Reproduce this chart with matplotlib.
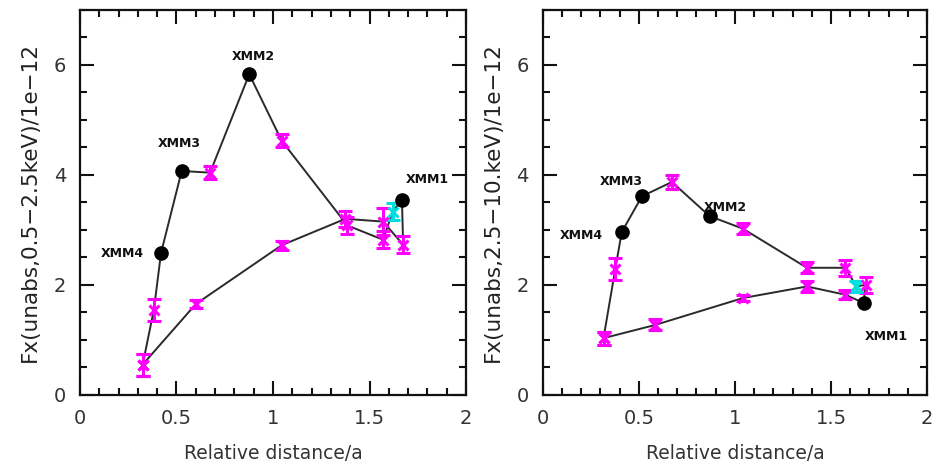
"""
Fx vs relative distance for the two energy bands (soft / hard)
"""
import matplotlib.pyplot as plt
import numpy as np
from matplotlib.ticker import MultipleLocator

# ==================== data ====================
# soft band 0.5-2.5 keV, points in orbital order (closed loop)
SOFT_X = [0.325, 0.383, 0.420, 0.527, 0.674, 0.877, 1.045, 1.385, 1.570, 1.620,
          1.668, 1.674, 1.570, 1.375, 1.045, 0.600, 0.325]
SOFT_Y = [0.55, 1.55, 2.58, 4.07, 4.04, 5.83, 4.62, 3.08, 2.82, 3.33,
          3.55, 2.73, 3.15, 3.20, 2.72, 1.65, 0.55]
SOFT_ERR = [0.20, 0.20, 0.0, 0.0, 0.12, 0.0, 0.12, 0.15, 0.15, 0.15,
            0.0, 0.15, 0.25, 0.15, 0.08, 0.08, 0.20]
# kind of each point: X = XMM observation, M = magenta, C = cyan
SOFT_KIND = ["M", "M", "X", "X", "M", "X", "M", "M", "M", "C",
             "X", "M", "M", "M", "M", "M", "M"]
SOFT_LABELS = {"XMM4": (0.218, 2.57), "XMM3": (0.513, 4.57),
               "XMM2": (0.900, 6.16), "XMM1": (1.797, 3.92)}

# hard band 2.5-10 keV
HARD_X = [0.316, 0.377, 0.411, 0.516, 0.672, 0.868, 1.042, 1.375, 1.575, 1.632,
          1.680, 1.670, 1.575, 1.375, 1.042, 0.585, 0.316]
HARD_Y = [1.03, 2.28, 2.96, 3.61, 3.87, 3.25, 3.02, 2.31, 2.31, 1.97,
          2.00, 1.67, 1.82, 1.97, 1.76, 1.27, 1.03]
HARD_ERR = [0.12, 0.20, 0.0, 0.0, 0.12, 0.0, 0.10, 0.10, 0.15, 0.10,
            0.15, 0.0, 0.08, 0.10, 0.06, 0.10, 0.12]
HARD_KIND = ["M", "M", "X", "X", "M", "X", "M", "M", "M", "C",
             "M", "X", "M", "M", "M", "M", "M"]
HARD_LABELS = {"XMM4": (0.203, 2.90), "XMM3": (0.406, 3.87),
               "XMM2": (0.950, 3.40), "XMM1": (1.790, 1.06)}

XLABEL = "Relative distance/a"
SOFT_YLABEL = "Fx(unabs,0.5\u22122.5keV)/1e\u221212"
HARD_YLABEL = "Fx(unabs,2.5\u221210.keV)/1e\u221212"
# ==============================================

COLORS = {"M": "#ff00ff", "C": "#00dede"}


def draw_panel(ax, xs, ys, errs, kinds, labels, ylabel):
    xs = np.asarray(xs)
    ys = np.asarray(ys)
    errs = np.asarray(errs)
    ax.plot(xs, ys, "-", color="#2a2a2a", lw=1.4, zorder=2)

    for kind in ("M", "C"):
        sel = np.array([k == kind for k in kinds])
        ax.errorbar(xs[sel], ys[sel], yerr=errs[sel], fmt="x", color=COLORS[kind],
                    ms=7, mew=2.2, elinewidth=2.2, capsize=5, capthick=1.6, zorder=3)

    sel = np.array([k == "X" for k in kinds])
    ax.plot(xs[sel], ys[sel], "o", color="black", ms=9.5, zorder=4)

    for name, (lx, ly) in labels.items():
        ax.text(lx, ly, name, fontsize=9, fontweight="bold", ha="center",
                va="center", color="#111111", zorder=5)

    ax.set_xlim(0, 2)
    ax.set_ylim(0, 7)
    ax.xaxis.set_major_locator(MultipleLocator(0.5))
    ax.xaxis.set_minor_locator(MultipleLocator(0.1))
    ax.yaxis.set_major_locator(MultipleLocator(2))
    ax.yaxis.set_minor_locator(MultipleLocator(0.5))
    ax.set_xticks([0, 0.5, 1, 1.5, 2], ["0", "0.5", "1", "1.5", "2"])
    ax.tick_params(which="both", direction="in", top=True, right=True,
                   width=1.5, colors="#111111", labelcolor="#333333",
                   labelsize=14)
    ax.tick_params(which="major", length=10, pad=10)
    ax.tick_params(which="minor", length=5)
    for s in ax.spines.values():
        s.set_linewidth(1.6)
        s.set_color("#111111")
    ax.set_xlabel(XLABEL, fontsize=13.5, color="#333333", labelpad=12)
    ax.set_ylabel(ylabel, fontsize=15.5, color="#222222", labelpad=10)


fig = plt.figure(figsize=(9.44, 4.70), dpi=100)
ax1 = fig.add_axes([0.0847, 0.160, 0.409, 0.819])
ax2 = fig.add_axes([0.575, 0.160, 0.407, 0.819])

draw_panel(ax1, SOFT_X, SOFT_Y, SOFT_ERR, SOFT_KIND, SOFT_LABELS, SOFT_YLABEL)
draw_panel(ax2, HARD_X, HARD_Y, HARD_ERR, HARD_KIND, HARD_LABELS, HARD_YLABEL)

fig.savefig("out.png", dpi=100)
plt.close(fig)
